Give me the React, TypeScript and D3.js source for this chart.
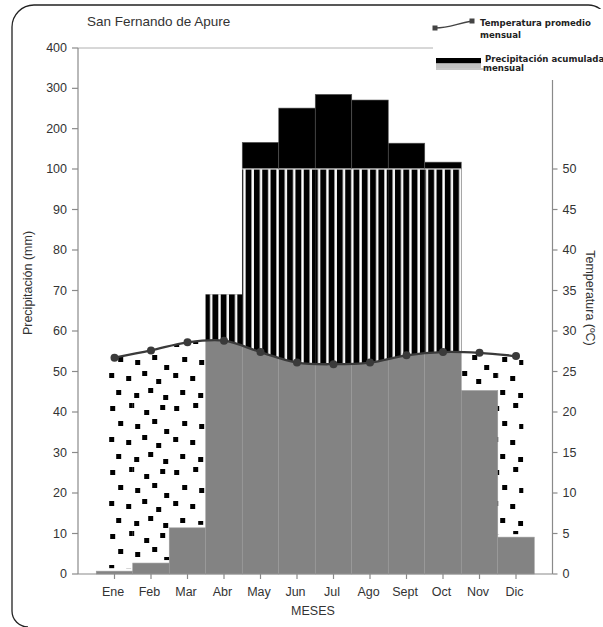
import React from "react";
import * as d3 from "d3";

const months = ["Ene", "Feb", "Mar", "Abr", "May", "Jun", "Jul", "Ago", "Sept", "Oct", "Nov", "Dic"];
const precipitation = [0.7, 2.7, 11.4, 69, 166, 251, 285, 271, 164, 117, 45.3, 9.1];
const temperature = [26.7, 27.6, 28.6, 28.8, 27.4, 26.1, 25.9, 26.1, 27.0, 27.4, 27.3, 26.9];
const precipTicks = [0, 10, 20, 30, 40, 50, 60, 70, 80, 90, 100, 200, 300, 400];
const tempTicks = [0, 5, 10, 15, 20, 25, 30, 35, 40, 45, 50];

// pattern tile positions for dotted (arid) fill
const dotTile = [
  [3, 4], [22, 1], [37, 8], [53, 3],
  [11, 19], [28, 22], [45, 17], [57, 27],
  [2, 35], [19, 38], [35, 33], [49, 41],
  [9, 52], [27, 55], [41, 50], [56, 57],
];

export default function App() {
  const W = 603, H = 627;
  const x = d3.scaleLinear().domain([0, 13]).range([78, 552.5]);
  const step = x(1) - x(0);
  const yP = d3.scaleLinear().domain([0, 100, 400]).range([574, 169, 48]);
  const yT = d3.scaleLinear().domain([0, 50]).range([574, 169]);
  const data = months.map((m, k) => ({ m, i: k + 1, p: precipitation[k], t: temperature[k] }));
  const isHumid = (d: any) => d.p > 2 * d.t;
  const curve = d3.curveCatmullRom.alpha(0.5);
  const line = d3.line<any>().x((d) => x(d.i)).y((d) => yT(d.t)).curve(curve);
  const aboveArea = d3.area<any>().x((d) => x(d.i)).y0(0).y1((d) => yT(d.t)).curve(curve);
  const belowArea = d3.area<any>().x((d) => x(d.i)).y0(yP(0)).y1((d) => yT(d.t)).curve(curve);
  const first = data[0], last = data[data.length - 1];
  const font = "'Liberation Sans', Arial, sans-serif";
  const legFont = "'DejaVu Sans', Verdana, sans-serif";
  const axisCol = "#8a8a8a";
  const txtCol = "#333";
  const sp = 8.3;

  return (
    <svg width={W} height={H} style={{ position: "absolute", left: 0, top: 0, background: "#fff" }}>
      <defs>
        <pattern id="stripes" patternUnits="userSpaceOnUse" x={Math.round(x(3.5))} y={0} width={sp} height={10}>
          <rect x={0} y={0} width={sp} height={10} fill="#000" />
          <rect x={4} y={0} width={2.4} height={10} fill="#fff" />
        </pattern>
        <pattern id="dots" patternUnits="userSpaceOnUse" x={x(0.8)} y={18} width={64} height={64}>
          {dotTile.map(([a, b], k) => (
            <rect key={k} x={a} y={b} width={5} height={5} fill="#000" />
          ))}
        </pattern>
        <clipPath id="aboveClip">
          <path d={aboveArea(data) || ""} />
        </clipPath>
        <clipPath id="belowClip">
          <path d={belowArea(data) || ""} />
          <rect x={x(0.78)} y={yT(first.t)} width={x(1) - x(0.78)} height={yP(0) - yT(first.t)} />
          <rect x={x(12)} y={yT(last.t)} width={x(12.2) - x(12)} height={yP(0) - yT(last.t)} />
        </clipPath>
      </defs>

      {/* frame */}
      <path d="M 28 627 A 16 16 0 0 1 12 611 L 12 27 A 22 22 0 0 1 34 5 L 588 5 A 20 20 0 0 1 607 18" fill="none" stroke="#222" strokeWidth={1.3} />

      {/* title */}
      <text x={87} y={26} fontFamily={font} fontSize={13.5} fill={txtCol}>San Fernando de Apure</text>

      {/* top gridline */}
      <line x1={x(0)} x2={x(13)} y1={yP(400)} y2={yP(400)} stroke="#b0b0b0" strokeWidth={1} />

      {/* gray precipitation bars */}
      {data.map((d) => (
        <rect key={"g" + d.m} x={x(d.i - 0.5)} width={step} y={yP(Math.min(d.p, 100))} height={yP(0) - yP(Math.min(d.p, 100))}
          fill="#838383" stroke="#9c9c9c" strokeWidth={0.6} />
      ))}

      {/* arid dotted */}
      <g clipPath="url(#belowClip)">
        {data.filter((d) => !isHumid(d)).map((d) => (
          <rect key={"a" + d.m} x={x(d.i - 0.5)} width={step} y={yP(100)} height={yP(d.p) - yP(100) - 3} fill="url(#dots)" />
        ))}
      </g>

      {/* humid striped */}
      <g clipPath="url(#aboveClip)">
        {data.filter(isHumid).map((d) => (
          <rect key={"h" + d.m} x={x(d.i - 0.5)} width={step} y={yP(Math.min(d.p, 100))} height={yP(0) - yP(Math.min(d.p, 100))} fill="url(#stripes)" />
        ))}
      </g>

      {/* solid black above 100 mm */}
      {data.filter((d) => d.p > 100).map((d) => (
        <g key={"b" + d.m}>
          <rect x={x(d.i - 0.5)} width={step} y={yP(d.p)} height={yP(100) - yP(d.p)} fill="#000" stroke="#555" strokeWidth={0.6} />
          <line x1={x(d.i - 0.5)} x2={x(d.i + 0.5)} y1={yP(100)} y2={yP(100)} stroke="#fff" strokeWidth={1.2} />
        </g>
      ))}

      {/* temperature line */}
      <path d={line(data) || ""} fill="none" stroke="#3a3a3a" strokeWidth={2.3} />
      {data.map((d) => (
        <circle key={"c" + d.m} cx={x(d.i)} cy={yT(d.t)} r={4} fill="#3a3a3a" />
      ))}

      {/* legend (white box covers gridline and axis top) */}
      <rect x={433} y={9} width={170} height={71} fill="#fff" />
      <path d="M 435 28 C 450 28, 455 24, 472 21" fill="none" stroke="#444" strokeWidth={1.3} />
      <rect x={432.5} y={25.5} width={5} height={5} fill="#444" />
      <rect x={469.5} y={18.5} width={5} height={5} fill="#444" />
      <text x={480} y={25.5} fontFamily={legFont} fontWeight="bold" fontSize={8.6} fill="#222">Temperatura promedio</text>
      <text x={480} y={37.5} fontFamily={legFont} fontWeight="bold" fontSize={8.6} fill="#222">mensual</text>
      <rect x={436} y={58} width={45} height={5.5} fill="#000" />
      <rect x={436} y={63.5} width={45} height={4.5} fill="#c2c2c2" />
      <line x1={436} x2={484} y1={69} y2={69} stroke="#777" strokeWidth={0.8} />
      <text x={485} y={62.3} fontFamily={legFont} fontWeight="bold" fontSize={8.6} fill="#222">Precipitación acumulada</text>
      <text x={483} y={71} fontFamily={legFont} fontWeight="bold" fontSize={8.6} fill="#222">mensual</text>

      {/* left axis */}
      <line x1={x(0)} x2={x(0)} y1={yP(400)} y2={yP(0)} stroke={axisCol} strokeWidth={1.2} />
      {precipTicks.map((v) => (
        <g key={"lp" + v}>
          <line x1={x(0) - 6} x2={x(0)} y1={yP(v)} y2={yP(v)} stroke={axisCol} strokeWidth={1.2} />
          <text x={x(0) - 11} y={yP(v)} textAnchor="end" dominantBaseline="central" fontFamily={font} fontSize={12.5} fill={txtCol}>{v}</text>
        </g>
      ))}

      {/* right axis */}
      <line x1={x(13)} x2={x(13)} y1={80} y2={yT(0)} stroke={axisCol} strokeWidth={1.2} />
      {tempTicks.map((v) => (
        <g key={"rt" + v}>
          <line x1={x(13)} x2={x(13) + 5} y1={yT(v)} y2={yT(v)} stroke={axisCol} strokeWidth={1.2} />
          <text x={x(13) + 10} y={yT(v)} dominantBaseline="central" fontFamily={font} fontSize={12.5} fill={txtCol}>{v}</text>
        </g>
      ))}

      {/* x axis */}
      <line x1={x(0)} x2={x(13)} y1={yP(0)} y2={yP(0)} stroke={axisCol} strokeWidth={1.2} />
      {data.map((d) => (
        <g key={"xt" + d.m}>
          <line x1={x(d.i)} x2={x(d.i)} y1={yP(0)} y2={yP(0) + 5} stroke={axisCol} strokeWidth={1.2} />
          <text x={x(d.i) - 1.5} y={592} textAnchor="middle" dominantBaseline="central" fontFamily={font} fontSize={12.5} fill={txtCol}>{d.m}</text>
        </g>
      ))}

      {/* axis titles */}
      <text x={313} y={611} textAnchor="middle" dominantBaseline="central" fontFamily={font} fontSize={12.5} fill={txtCol}>MESES</text>
      <text transform="translate(28,283) rotate(-90)" textAnchor="middle" dominantBaseline="central" fontFamily={font} fontSize={12.5} fill={txtCol}>Precipitación (mm)</text>
      <text transform="translate(590,298) rotate(90)" textAnchor="middle" dominantBaseline="central" fontFamily={font} fontSize={12.5} fill={txtCol}>Temperatura (ºC)</text>
    </svg>
  );
}
